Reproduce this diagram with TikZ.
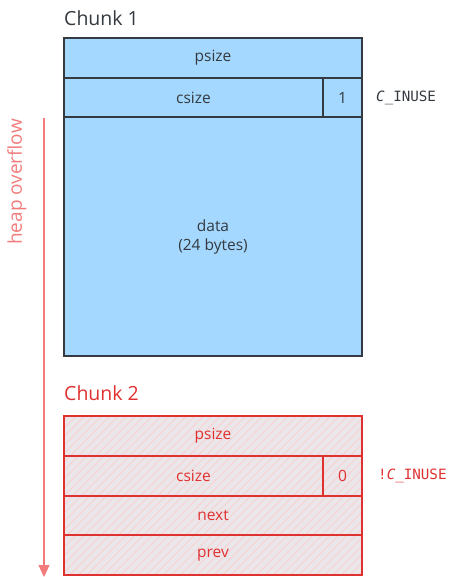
\documentclass[tikz,border=0pt]{standalone}
\usepackage{fontspec}
\setmainfont{Open Sans}
\newfontfamily\codefont{DejaVu Sans Mono}
\usetikzlibrary{arrows.meta,patterns.meta}
\definecolor{inkgray}{HTML}{343A40}
\definecolor{usedblue}{HTML}{A5D8FF}
\definecolor{freered}{HTML}{E03131}
\definecolor{arrowred}{HTML}{F27C7C}
\definecolor{freebase}{HTML}{EBE6E9}
\tikzset{
  usedcell/.style={draw=inkgray, line width=1.3pt, fill=usedblue, text=inkgray,
    inner sep=0pt, font=\fontsize{15.5}{19}\selectfont},
  % the hatching is laid down before the outline so the border stays solid
  freecell/.style={draw=freered, line width=1.3pt, text=freered,
    preaction={fill=freebase},
    preaction={pattern={Lines[angle=45,distance=6pt,line width=0.9pt]}, pattern color=freered!22},
    inner sep=0pt, font=\fontsize{15.5}{19}\selectfont},
  chunktitle/.style={anchor=west, inner sep=0pt, font=\fontsize{19.5}{23}\selectfont},
  flaglabel/.style={anchor=west, inner sep=0pt, font=\codefont\fontsize{14.2}{16}\selectfont},
}
\begin{document}
\begin{tikzpicture}[x=1pt,y=-1pt]
\useasboundingbox (0,0) rectangle (449,577);
% chunk 1 (in use)
\node[chunktitle, text=inkgray] (t1) at (64,18) {Chunk 1};
\node[usedcell, minimum width=298pt, minimum height=40pt] (p1) at (213,58) {psize};
\node[usedcell, minimum width=259pt, minimum height=39pt] (c1) at (193.5,97.5) {csize};
\node[usedcell, minimum width=39pt, minimum height=39pt] (f1) at (342.5,97.5) {1};
\node[usedcell, minimum width=298pt, minimum height=239pt, align=center] (d1) at (213,236.5) {data\\(24 bytes)};
\node[flaglabel, text=inkgray] (l1) at (376,98) {\textit{C}\_INUSE};
% chunk 2 (free)
\node[chunktitle, text=freered] (t2) at (64,393) {Chunk 2};
\node[freecell, minimum width=298pt, minimum height=40pt] (p2) at (213,436) {psize};
\node[freecell, minimum width=259pt, minimum height=40pt] (c2) at (193.5,476) {csize};
\node[freecell, minimum width=39pt, minimum height=40pt] (f2) at (342.5,476) {0};
\node[freecell, minimum width=298pt, minimum height=39pt] (n2) at (213,515.5) {next};
\node[freecell, minimum width=298pt, minimum height=40pt] (v2) at (213,555) {prev};
\node[flaglabel, text=freered] (l2) at (378,476) {!\textit{C}\_INUSE};
% overflow direction
\coordinate (ovtop) at (44,118);
\coordinate (ovbot) at (44,577);
\draw[arrowred, line width=1.3pt, -{Triangle[width=11pt,length=12pt]}] (ovtop) -- (ovbot);
\node[rotate=90, text=arrowred, inner sep=0pt, font=\fontsize{19}{22}\selectfont] (ov) at (17,182) {heap overflow};
\end{tikzpicture}
\end{document}
